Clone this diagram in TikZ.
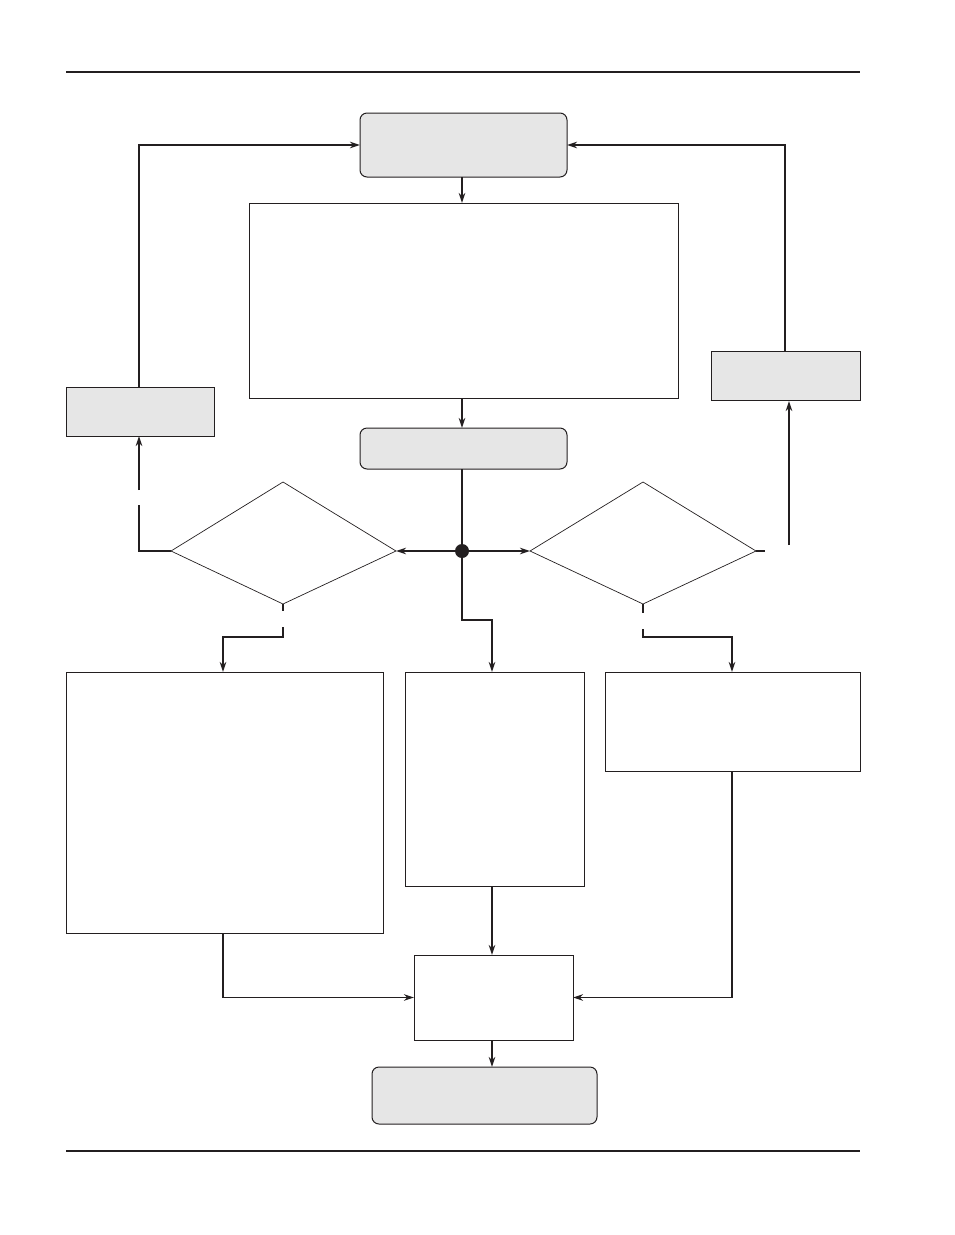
\documentclass[tikz,border=0pt]{standalone}
\usetikzlibrary{arrows.meta}
\definecolor{ink}{HTML}{231F20}
\definecolor{boxgray}{HTML}{E6E6E6}
\begin{document}
\begin{tikzpicture}[x=1pt,y=-1pt,
  every node/.style={inner sep=0pt,outer sep=0pt},
  plainbox/.style={draw=ink,line width=1pt,rectangle},
  graybox/.style={draw=ink,line width=1pt,rectangle,fill=boxgray},
  roundbox/.style={draw=ink,line width=1pt,rectangle,rounded corners=7pt,fill=boxgray},
  decision/.style={draw=ink,line width=0.7pt,line join=miter},
  conn/.style={draw=ink,line width=1.6pt},
  arr/.style={conn,-{Stealth[length=10pt,width=6.5pt,inset=3pt]}},
  rulebar/.style={draw=ink,line width=2pt}]
\useasboundingbox (0,0) rectangle (954,1235);
% rules
\coordinate (r1a) at (66,72); \coordinate (r1b) at (860,72);
\coordinate (r2a) at (66,1151); \coordinate (r2b) at (860,1151);
\draw[rulebar] (r1a) -- (r1b);
\draw[rulebar] (r2a) -- (r2b);
% nodes
\node[roundbox,minimum width=207pt,minimum height=64pt] (A) at (463.5,145) {};
\node[plainbox,minimum width=429pt,minimum height=195pt] (B) at (463.5,300.5) {};
\node[roundbox,minimum width=207pt,minimum height=41pt] (C) at (463.5,448.5) {};
\node[graybox,minimum width=148pt,minimum height=49pt] (D) at (140,411.5) {};
\node[graybox,minimum width=149pt,minimum height=49pt] (G) at (785.5,375.5) {};
\node[plainbox,minimum width=317pt,minimum height=261pt] (F) at (224.5,802.5) {};
\node[plainbox,minimum width=179pt,minimum height=214pt] (E) at (494.5,779) {};
\node[plainbox,minimum width=255pt,minimum height=99pt] (H) at (732.5,721.5) {};
\node[plainbox,minimum width=159pt,minimum height=85pt] (I) at (493.5,997.5) {};
\node[roundbox,minimum width=225pt,minimum height=57pt] (J) at (484.5,1095.5) {};
\node[circle,fill=ink,minimum size=14pt] (X) at (462,551) {};
% decisions (kite-shaped diamonds)
\coordinate (LDw) at (171,551); \coordinate (LDn) at (283,482);
\coordinate (LDe) at (396,551); \coordinate (LDs) at (283,604);
\draw[decision] (LDw) -- (LDn) -- (LDe) -- (LDs) -- cycle;
\coordinate (RDw) at (530,551); \coordinate (RDn) at (643,482);
\coordinate (RDe) at (756,551); \coordinate (RDs) at (643,604);
\draw[decision] (RDw) -- (RDn) -- (RDe) -- (RDs) -- cycle;
% connectors
\draw[arr] (A.south -| 462,0) -- (B.north -| 462,0);
\draw[arr] (B.south -| 462,0) -- (C.north -| 462,0);
\draw[conn] (C.south -| 462,0) -- (X.center);
\draw[arr] (X.center) -- (LDe);
\draw[arr] (X.center) -- (RDw);
\coordinate (xe) at (462,620);
\draw[arr] (X.center) -- (xe) -| (492,672);
% left decision
\coordinate (lg1) at (139,505); \coordinate (lg2) at (139,490);
\draw[conn] (LDw) -| (lg1);
\draw[arr] (lg2) -- (D.south -| 139,0);
\coordinate (dt) at (139,387);
\draw[arr] (dt) |- (A.west);
\coordinate (lb1) at (283,611); \coordinate (lb2) at (283,627);
\draw[conn] (LDs) -- (lb1);
\draw[arr] (lb2) -- (283,637) -| (223,672);
% right decision
\coordinate (rg1) at (765,551);
\draw[conn] (RDe) -- (rg1);
\coordinate (rg2) at (789,545);
\draw[arr] (rg2) -- (789,401);
\coordinate (gt) at (785,351);
\draw[arr] (gt) |- (A.east);
\coordinate (rb1) at (643,613); \coordinate (rb2) at (643,629);
\draw[conn] (RDs) -- (rb1);
\draw[arr] (rb2) -- (643,637) -| (732,672);
% bottom merge
\draw[arr] (492,886) -- (492,955);
\draw[arr] (223,933) |- (I.west);
\draw[arr] (732,771) |- (I.east);
\draw[arr] (492,1040) -- (492,1067);
\end{tikzpicture}
\end{document}
